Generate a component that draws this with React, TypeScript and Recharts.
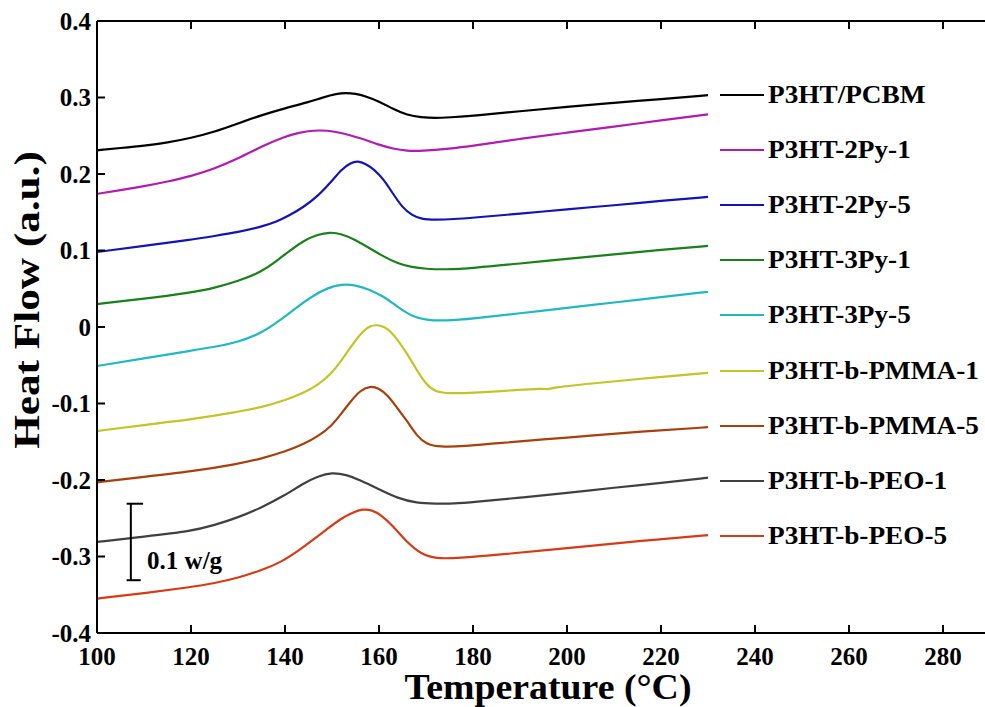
import React from 'react';
import { LineChart, Line, XAxis, YAxis, Legend, ReferenceLine, ReferenceDot } from 'recharts';

const FONT = '"Liberation Serif", "Times New Roman", Times, serif';

// Axis ticks
const xTicks = [100, 120, 140, 160, 180, 200, 220, 240, 260, 280];
const yTicks = [-0.4, -0.3, -0.2, -0.1, 0, 0.1, 0.2, 0.3, 0.4];
const yTickLabels = ['-0.4', '-0.3', '-0.2', '-0.1', '0', '0.1', '0.2', '0.3', '0.4'];

// DSC heating traces: temperature (°C) and heat flow (a.u., offset)
const tPCBM = [100, 105, 110, 115, 120, 125, 130, 135, 140, 145, 148, 151, 153, 155, 157, 160, 163, 166, 169, 172, 175, 180, 190, 200, 210, 220, 230];
const hfPCBM = [0.231, 0.234, 0.237, 0.241, 0.247, 0.255, 0.266, 0.277, 0.286, 0.294, 0.3, 0.305, 0.306, 0.305, 0.302, 0.295, 0.285, 0.277, 0.274, 0.273, 0.274, 0.276, 0.282, 0.288, 0.293, 0.298, 0.303];

const t2Py1 = [100, 105, 110, 115, 120, 125, 130, 135, 140, 143, 146, 149, 152, 156, 160, 163, 166, 169, 175, 180, 190, 200, 210, 220, 230];
const hf2Py1 = [0.174, 0.179, 0.184, 0.19, 0.197, 0.207, 0.22, 0.236, 0.249, 0.254, 0.257, 0.257, 0.254, 0.247, 0.238, 0.233, 0.23, 0.23, 0.233, 0.237, 0.246, 0.254, 0.262, 0.27, 0.278];

const t2Py5 = [100, 110, 120, 125, 130, 135, 138, 141, 144, 147, 150, 152, 154, 155.5, 157, 159, 161, 163, 165, 167, 169, 172, 176, 180, 190, 200, 210, 220, 230];
const hf2Py5 = [0.098, 0.106, 0.114, 0.119, 0.124, 0.131, 0.137, 0.146, 0.157, 0.171, 0.191, 0.206, 0.215, 0.217, 0.214, 0.206, 0.193, 0.174, 0.156, 0.146, 0.141, 0.14, 0.141, 0.143, 0.148, 0.154, 0.159, 0.165, 0.17];

const t3Py1 = [100, 110, 120, 125, 130, 135, 138, 141, 144, 147, 149.5, 152, 155, 158, 161, 164, 167, 170, 174, 180, 190, 200, 210, 220, 230];
const hf3Py1 = [0.03, 0.037, 0.045, 0.051, 0.06, 0.072, 0.085, 0.1, 0.113, 0.121, 0.124, 0.122, 0.114, 0.103, 0.092, 0.083, 0.078, 0.076, 0.075, 0.077, 0.083, 0.089, 0.095, 0.101, 0.106];

const t3Py5 = [100, 110, 120, 125, 130, 135, 139, 143, 146, 149, 152, 155, 158, 161, 164, 167, 170, 174, 180, 190, 200, 210, 220, 230];
const hf3Py5 = [-0.051, -0.041, -0.031, -0.026, -0.02, -0.008, 0.009, 0.028, 0.041, 0.051, 0.056, 0.055, 0.049, 0.04, 0.026, 0.014, 0.009, 0.008, 0.011, 0.018, 0.025, 0.032, 0.039, 0.046];

const tPMMA1 = [100, 110, 120, 130, 135, 140, 144, 147, 150, 152, 154, 156, 158, 160, 162, 164, 166, 168, 170, 172, 175, 180, 188, 195, 196, 197, 205, 215, 230];
const hfPMMA1 = [-0.136, -0.128, -0.121, -0.111, -0.105, -0.096, -0.086, -0.076, -0.06, -0.044, -0.026, -0.009, 0.002, 0.003, -0.002, -0.017, -0.035, -0.056, -0.075, -0.085, -0.087, -0.086, -0.083, -0.08, -0.082, -0.079, -0.074, -0.068, -0.06];

const tPMMA5 = [100, 110, 120, 130, 135, 140, 144, 147, 150, 152, 154, 156, 158, 160, 162, 164, 166, 168, 170, 173, 178, 185, 195, 205, 215, 230];
const hfPMMA5 = [-0.203, -0.196, -0.189, -0.179, -0.172, -0.163, -0.153, -0.143, -0.129, -0.113, -0.097, -0.083, -0.077, -0.08, -0.09, -0.107, -0.123, -0.142, -0.153, -0.157, -0.156, -0.152, -0.147, -0.142, -0.137, -0.131];

const tPEO1 = [100, 110, 120, 125, 130, 135, 140, 144, 147, 150, 153, 156, 160, 164, 168, 172, 176, 180, 190, 200, 210, 220, 230];
const hfPEO1 = [-0.281, -0.274, -0.267, -0.259, -0.249, -0.236, -0.22, -0.204, -0.195, -0.19, -0.193, -0.2, -0.212, -0.224, -0.23, -0.231, -0.231, -0.229, -0.223, -0.217, -0.21, -0.204, -0.197];

const tPEO5 = [100, 110, 120, 125, 130, 135, 139, 143, 146, 149, 152, 154.5, 156.5, 158.5, 160.5, 163, 166, 169, 172, 177, 185, 195, 205, 215, 230];
const hfPEO5 = [-0.355, -0.348, -0.34, -0.335, -0.328, -0.318, -0.308, -0.292, -0.278, -0.264, -0.25, -0.242, -0.238, -0.239, -0.246, -0.26, -0.282, -0.297, -0.303, -0.302, -0.298, -0.292, -0.286, -0.28, -0.272];

const seriesNames = [
  'P3HT/PCBM', 'P3HT-2Py-1', 'P3HT-2Py-5', 'P3HT-3Py-1', 'P3HT-3Py-5',
  'P3HT-b-PMMA-1', 'P3HT-b-PMMA-5', 'P3HT-b-PEO-1', 'P3HT-b-PEO-5',
];
const seriesColors = [
  '#000000', '#b01cb0', '#1414b4', '#1a801a', '#22b8c0',
  '#c4c428', '#a8400e', '#404040', '#d43c18',
];
const seriesT = [tPCBM, t2Py1, t2Py5, t3Py1, t3Py5, tPMMA1, tPMMA5, tPEO1, tPEO5];
const seriesHF = [hfPCBM, hf2Py1, hf2Py5, hf3Py1, hf3Py5, hfPMMA1, hfPMMA5, hfPEO1, hfPEO5];

const series = seriesNames.map((name, i) => ({
  name,
  color: seriesColors[i],
  data: seriesT[i].map((t, j) => ({ t, hf: seriesHF[i][j] })),
}));

const textStyle = { fontFamily: FONT, fontWeight: 700, fill: '#000' } as const;

const BottomTick = (props: any) => {
  const { x, y, payload } = props;
  return (
    <g>
      <line x1={x} y1={y} x2={x} y2={y - 8} stroke="#000" strokeWidth={2} />
      <text x={x} y={y + 32} textAnchor="middle" fontSize={25} {...textStyle}>
        {payload.value}
      </text>
    </g>
  );
};

const TopTick = (props: any) => {
  const { x, y } = props;
  return <line x1={x} y1={y} x2={x} y2={y + 8} stroke="#000" strokeWidth={2} />;
};

const LeftTick = (props: any) => {
  const { x, y, payload } = props;
  const idx = yTicks.findIndex((v) => Math.abs(v - payload.value) < 1e-9);
  return (
    <g>
      <line x1={x} y1={y} x2={x + 8} y2={y} stroke="#000" strokeWidth={2} />
      <text x={x - 6} y={y + 8.5} textAnchor="end" fontSize={25} {...textStyle}>
        {idx >= 0 ? yTickLabels[idx] : payload.value}
      </text>
    </g>
  );
};

const LegendBox = () => (
  <div style={{ fontFamily: FONT, fontWeight: 700, fontSize: 25, color: '#000' }}>
    {series.map((s) => (
      <div key={s.name} style={{ display: 'flex', alignItems: 'center', height: 55.1, whiteSpace: 'nowrap' }}>
        <svg width={44} height={4} style={{ display: 'block' }}>
          <line x1={0} y1={2} x2={44} y2={2} stroke={s.color} strokeWidth={2} />
        </svg>
        <span
          style={{
            marginLeft: 4,
            display: 'inline-block',
            transform: 'scaleX(1.09)',
            transformOrigin: 'left center',
          }}
        >
          {s.name}
        </span>
      </div>
    ))}
  </div>
);

export default function App() {
  return (
    <div
      style={{
        position: 'fixed',
        left: 0,
        top: 0,
        width: 985,
        height: 707,
        overflow: 'hidden',
        background: '#fff',
      }}
    >
      <LineChart
        width={1000}
        height={707}
        margin={{ top: 20, right: 10, bottom: 73, left: 96 }}
      >
        <XAxis
          type="number"
          dataKey="t"
          domain={[100, 290]}
          ticks={xTicks}
          allowDataOverflow
          height={1}
          tickSize={0}
          tickMargin={0}
          tickLine={false}
          axisLine={{ stroke: '#000', strokeWidth: 2 }}
          tick={<BottomTick />}
          interval={0}
        />
        <XAxis
          xAxisId="top"
          orientation="top"
          type="number"
          dataKey="t"
          domain={[100, 290]}
          ticks={xTicks}
          allowDataOverflow
          height={1}
          tickSize={0}
          tickMargin={0}
          tickLine={false}
          axisLine={{ stroke: '#000', strokeWidth: 2 }}
          tick={<TopTick />}
          interval={0}
        />
        <YAxis
          type="number"
          domain={[-0.4, 0.4]}
          ticks={yTicks}
          allowDataOverflow
          width={1}
          tickSize={0}
          tickMargin={0}
          tickLine={false}
          axisLine={{ stroke: '#000', strokeWidth: 2 }}
          tick={<LeftTick />}
          interval={0}
        />
        {series.map((s) => (
          <Line
            key={s.name}
            data={s.data}
            dataKey="hf"
            name={s.name}
            type="basis"
            stroke={s.color}
            strokeWidth={2.2}
            dot={false}
            activeDot={false}
            isAnimationActive={false}
          />
        ))}
        {/* 0.1 w/g scale bar */}
        <ReferenceLine
          segment={[{ x: 107.2, y: -0.231 }, { x: 107.2, y: -0.331 }]}
          stroke="#000"
          strokeWidth={2}
          ifOverflow="visible"
        />
        <ReferenceLine
          segment={[{ x: 106.3, y: -0.231 }, { x: 109.8, y: -0.231 }]}
          stroke="#000"
          strokeWidth={2}
          ifOverflow="visible"
        />
        <ReferenceLine
          segment={[{ x: 106.3, y: -0.331 }, { x: 109.3, y: -0.331 }]}
          stroke="#000"
          strokeWidth={2}
          ifOverflow="visible"
        />
        <ReferenceDot
          x={109.6}
          y={-0.305}
          r={0}
          fill="none"
          stroke="none"
          ifOverflow="visible"
          label={{
            value: '0.1 w/g',
            position: 'right',
            fontSize: 25,
            fontFamily: FONT,
            fontWeight: 700,
            fill: '#000',
          }}
        />
        <Legend
          layout="vertical"
          align="center"
          verticalAlign="middle"
          wrapperStyle={{ position: 'absolute', left: 720, top: 67.5, width: 265 }}
          content={() => <LegendBox />}
        />
      </LineChart>
      <div
        style={{
          position: 'absolute',
          left: 548,
          top: 688,
          transform: 'translate(-50%, -50%) scaleX(1.08)',
          fontFamily: FONT,
          fontWeight: 700,
          fontSize: 35,
          whiteSpace: 'nowrap',
          color: '#000',
        }}
      >
        Temperature (°C)
      </div>
      <div
        style={{
          position: 'absolute',
          left: 27,
          top: 300,
          transform: 'translate(-50%, -50%) rotate(-90deg) scale(1.2, 1)',
          fontFamily: FONT,
          fontWeight: 700,
          fontSize: 36,
          whiteSpace: 'nowrap',
          color: '#000',
        }}
      >
        Heat Flow (a.u.)
      </div>
    </div>
  );
}
